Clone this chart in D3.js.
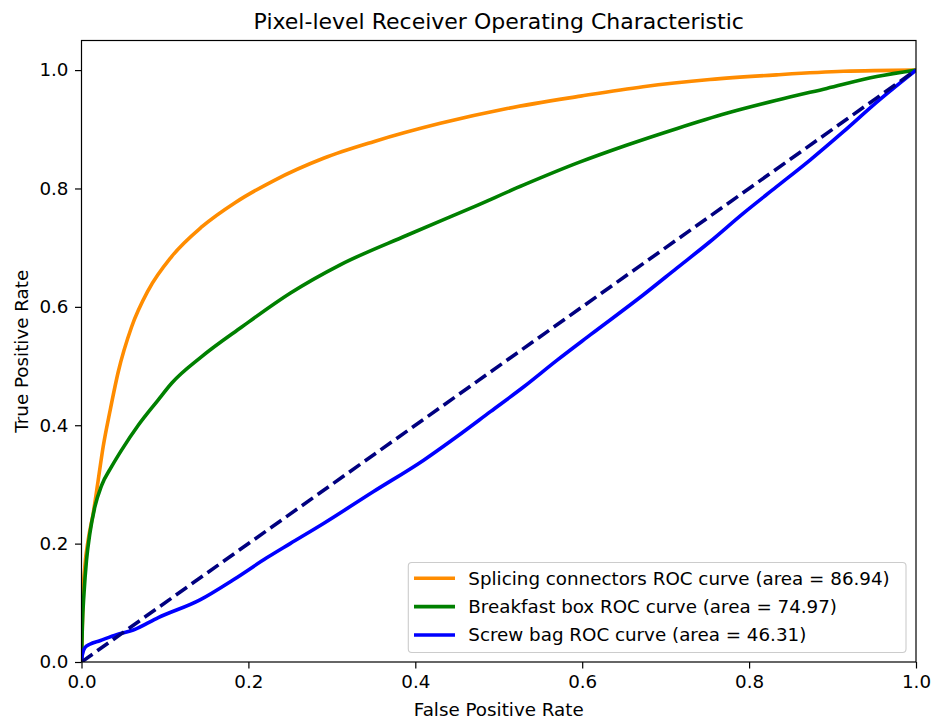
<!DOCTYPE html>
<html>
<head>
<meta charset="utf-8">
<script src="https://cdn.jsdelivr.net/npm/d3@7"></script>
<style>
  body { margin: 0; background: #fff; }
  svg { font-family: "DejaVu Sans", sans-serif; }
</style>
</head>
<body>
<div id="chart"></div>
<script>
// ROC curves
var splicingFpr = [0, 0.001, 0.002, 0.004, 0.008, 0.014, 0.020, 0.026, 0.034, 0.044, 0.060, 0.080, 0.108, 0.144, 0.184, 0.230, 0.290, 0.350, 0.430, 0.510, 0.598, 0.673, 0.753, 0.833, 0.913, 1.0];
var splicingTpr = [0, 0.06, 0.116, 0.161, 0.206, 0.251, 0.307, 0.364, 0.423, 0.490, 0.566, 0.628, 0.685, 0.735, 0.776, 0.813, 0.851, 0.879, 0.910, 0.935, 0.956, 0.972, 0.984, 0.992, 0.998, 1.0];

var breakfastFpr = [0, 0.001, 0.003, 0.006, 0.010, 0.016, 0.024, 0.036, 0.048, 0.068, 0.092, 0.108, 0.144, 0.192, 0.250, 0.310, 0.390, 0.470, 0.530, 0.596, 0.653, 0.713, 0.773, 0.833, 0.893, 0.953, 1.0];
var breakfastTpr = [0, 0.06, 0.116, 0.172, 0.217, 0.262, 0.298, 0.330, 0.358, 0.400, 0.443, 0.471, 0.516, 0.566, 0.623, 0.671, 0.721, 0.769, 0.806, 0.844, 0.873, 0.901, 0.927, 0.949, 0.969, 0.989, 1.0];

var screwFpr = [0, 0.001, 0.004, 0.010, 0.022, 0.042, 0.062, 0.092, 0.142, 0.182, 0.222, 0.250, 0.290, 0.350, 0.410, 0.450, 0.490, 0.530, 0.570, 0.610, 0.673, 0.713, 0.753, 0.793, 0.833, 0.873, 0.913, 0.953, 1.0];
var screwTpr = [0, 0.012, 0.024, 0.030, 0.036, 0.046, 0.054, 0.075, 0.105, 0.139, 0.176, 0.200, 0.234, 0.288, 0.341, 0.381, 0.423, 0.465, 0.510, 0.553, 0.620, 0.665, 0.710, 0.758, 0.803, 0.848, 0.896, 0.946, 1.0];

var chanceFpr = [0, 1];
var chanceTpr = [0, 1];

var seriesNames = ["Splicing connectors ROC curve (area = 86.94)",
                   "Breakfast box ROC curve (area = 74.97)",
                   "Screw bag ROC curve (area = 46.31)"];
var seriesColors = ["darkorange", "green", "blue"];
var tickValues = [0, 0.2, 0.4, 0.6, 0.8, 1.0];

function init(){
    var w = 934;
    var h = 724;
    var left = 81.5, right = 916, top = 40.5, bottom = 662;
    var fs = "18.3px";

    var xScale = d3.scaleLinear().domain([0, 1]).range([left, right]);
    var yScale = d3.scaleLinear().domain([0, 1.05]).range([bottom, top]);

    var line = d3.line()
        .curve(d3.curveMonotoneX)
        .x(function(d) { return xScale(d[0]); })
        .y(function(d) { return yScale(d[1]); });

    function pairs(xs, ys) {
        return xs.map(function(x, i) { return [x, ys[i]]; });
    }

    var series = [
        pairs(splicingFpr, splicingTpr),
        pairs(breakfastFpr, breakfastTpr),
        pairs(screwFpr, screwTpr)
    ];

    var svg = d3.select("#chart")
        .append("svg")
        .attr("width", w)
        .attr("height", h);

    svg.append("defs").append("clipPath")
        .attr("id", "plotclip")
        .append("rect")
        .attr("x", left).attr("y", top)
        .attr("width", right - left).attr("height", bottom - top);

    var plot = svg.append("g").attr("clip-path", "url(#plotclip)");

    series.forEach(function(s, i) {
        plot.append("path")
            .datum(s)
            .attr("d", line)
            .attr("fill", "none")
            .attr("stroke", seriesColors[i])
            .attr("stroke-width", 3.6)
            .attr("stroke-linejoin", "round");
    });

    // chance diagonal
    plot.append("path")
        .datum(pairs(chanceFpr, chanceTpr))
        .attr("d", d3.line().x(function(d) { return xScale(d[0]); }).y(function(d) { return yScale(d[1]); }))
        .attr("fill", "none")
        .attr("stroke", "navy")
        .attr("stroke-width", 3.6)
        .attr("stroke-dasharray", "13.5,5.8");

    // Axes
    var xAxis = d3.axisBottom(xScale)
        .tickValues(tickValues)
        .tickFormat(d3.format(".1f"))
        .tickSize(6.5)
        .tickPadding(6.5)
        .tickSizeOuter(0);
    var gx = svg.append("g")
        .attr("transform", "translate(0," + bottom + ")")
        .call(xAxis);

    var yAxis = d3.axisLeft(yScale)
        .tickValues(tickValues)
        .tickFormat(d3.format(".1f"))
        .tickSize(6.5)
        .tickPadding(6.5)
        .tickSizeOuter(0);
    var gy = svg.append("g")
        .attr("transform", "translate(" + left + ",0)")
        .call(yAxis);

    [gx, gy].forEach(function(g) {
        g.selectAll("text")
            .attr("font-family", "DejaVu Sans")
            .attr("font-size", fs)
            .attr("fill", "#000");
        g.selectAll("line").attr("stroke", "#000").attr("stroke-width", 1.2);
        g.select(".domain").remove();
    });

    // frame
    svg.append("rect")
        .attr("x", left).attr("y", top)
        .attr("width", right - left).attr("height", bottom - top)
        .attr("fill", "none")
        .attr("stroke", "#000")
        .attr("stroke-width", 1.2);

    // Title and labels
    svg.append("text")
        .attr("x", (left + right) / 2)
        .attr("y", 29)
        .attr("text-anchor", "middle")
        .attr("font-size", "22px")
        .text("Pixel-level Receiver Operating Characteristic");

    svg.append("text")
        .attr("x", (left + right) / 2)
        .attr("y", 716)
        .attr("text-anchor", "middle")
        .attr("font-size", fs)
        .text("False Positive Rate");

    svg.append("text")
        .attr("transform", "translate(28," + ((top + bottom) / 2) + ") rotate(-90)")
        .attr("text-anchor", "middle")
        .attr("font-size", fs)
        .text("True Positive Rate");

    // Legend
    var legend = svg.append("g");
    legend.append("rect")
        .attr("x", 408.3).attr("y", 562.5)
        .attr("width", 497.7).attr("height", 90)
        .attr("rx", 3.5)
        .attr("fill", "#fff").attr("fill-opacity", 0.8)
        .attr("stroke", "#cccccc").attr("stroke-width", 1.1);

    seriesNames.forEach(function(name, i) {
        var yy = 578.3 + i * 28.35;
        legend.append("line")
            .attr("x1", 414).attr("x2", 455)
            .attr("y1", yy).attr("y2", yy)
            .attr("stroke", seriesColors[i])
            .attr("stroke-width", 3.6);
        legend.append("text")
            .attr("x", 468.3)
            .attr("y", yy)
            .attr("dy", "0.35em")
            .attr("font-size", fs)
            .text(name);
    });
}
window.onload = init;
</script>
</body>
</html>
